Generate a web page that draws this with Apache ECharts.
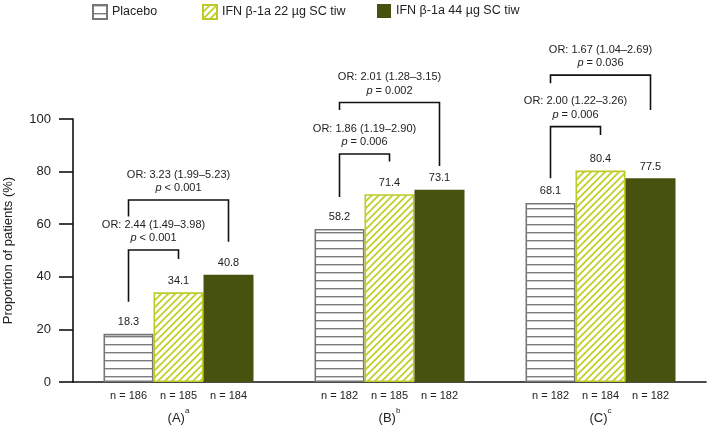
<!DOCTYPE html>
<html>
<head>
<meta charset="utf-8">
<script src="https://cdn.jsdelivr.net/npm/echarts@6/dist/echarts.min.js"></script>
<style>
  html, body { margin: 0; padding: 0; background: #fff; }
  #chart { width: 707px; height: 426px; }
</style>
</head>
<body>
<div id="chart"></div>
<script>
  // groups and footnote letters
  const categories = ['(A)', '(B)', '(C)'];
  const footnotes = ['a', 'b', 'c'];
  const seriesNames = ['Placebo', 'IFN β-1a 22 µg SC tiw', 'IFN β-1a 44 µg SC tiw'];

  // proportion of patients (%)
  const placebo = [18.3, 58.2, 68.1];
  const ifn22 = [34.1, 71.4, 80.4];
  const ifn44 = [40.8, 73.1, 77.5];

  // patients per bar
  const nPlacebo = [186, 182, 182];
  const n22 = [185, 185, 184];
  const n44 = [184, 182, 182];

  // comparisons vs placebo: group, compared series (1 = 22 µg, 2 = 44 µg)
  const cmpGroup = [0, 0, 1, 1, 2, 2];
  const cmpTo = [1, 2, 1, 2, 1, 2];
  const cmpOR = ['2.44 (1.49–3.98)', '3.23 (1.99–5.23)', '1.86 (1.19–2.90)', '2.01 (1.28–3.15)', '2.00 (1.22–3.26)', '1.67 (1.04–2.69)'];
  const cmpP = ['< 0.001', '< 0.001', '= 0.006', '= 0.002', '= 0.006', '= 0.036'];
  // bracket levels in axis units: top, end of left leg, end of right leg
  const cmpTop = [50.2, 69.2, 86.7, 106.3, 97.1, 116.7];
  const cmpLeftEnd = [30.5, 62.9, 70.3, 103.4, 77.5, 113.6];
  const cmpRightEnd = [46.8, 53.3, 83.8, 82.1, 93.9, 103.4];

  const FONT = "'Liberation Sans', Arial, sans-serif";
  const BAR_W = 50;

  function makePattern(kind) {
    const c = document.createElement('canvas');
    const ctx = c.getContext('2d');
    if (kind === 'lines') {
      c.width = 8; c.height = 8;
      ctx.fillStyle = '#fff';
      ctx.fillRect(0, 0, 8, 8);
      ctx.fillStyle = '#7d7d7d';
      ctx.fillRect(0, 0, 8, 1.4);
    } else {
      const s = 7;
      c.width = s; c.height = s;
      ctx.fillStyle = '#fff';
      ctx.fillRect(0, 0, s, s);
      ctx.strokeStyle = '#c2d02c';
      ctx.lineWidth = 1.8;
      ctx.beginPath();
      ctx.moveTo(0, s); ctx.lineTo(s, 0);
      ctx.moveTo(-1, 1); ctx.lineTo(1, -1);
      ctx.moveTo(s - 1, s + 1); ctx.lineTo(s + 1, s - 1);
      ctx.stroke();
    }
    return { image: c, repeat: 'repeat' };
  }

  const barStyles = [
    { color: makePattern('lines'), borderColor: '#777', borderWidth: 1.6 },
    { color: makePattern('hatch'), borderColor: '#bccb28', borderWidth: 1.6 },
    { color: '#47520f', borderColor: '#47520f', borderWidth: 0 }
  ];
  const values = [placebo, ifn22, ifn44];

  const barSeries = values.map(function (v, i) {
    return {
      name: seriesNames[i],
      type: 'bar',
      data: v,
      barWidth: BAR_W,
      barGap: '0%',
      itemStyle: barStyles[i],
      label: {
        show: true,
        position: 'top',
        distance: 6,
        fontSize: 11,
        fontFamily: FONT,
        color: '#222'
      },
      emphasis: { disabled: true },
      silent: true
    };
  });

  const cmpData = cmpGroup.map(function (g, i) {
    return [g, cmpTo[i], cmpTop[i], cmpLeftEnd[i], cmpRightEnd[i], i];
  });

  const bracketSeries = {
    type: 'custom',
    silent: true,
    clip: false,
    data: cmpData,
    renderItem: function (params, api) {
      const g = api.value(0);
      const to = api.value(1);
      const i = api.value(5);
      const cx = api.coord([g, 0])[0];
      const xL = cx - BAR_W;
      const xR = cx + (to - 1) * BAR_W;
      const yTop = api.coord([g, api.value(2)])[1];
      const yL = api.coord([g, api.value(3)])[1];
      const yR = api.coord([g, api.value(4)])[1];
      return {
        type: 'group',
        children: [
          {
            type: 'polyline',
            shape: { points: [[xL, yL], [xL, yTop], [xR, yTop], [xR, yR]] },
            style: { stroke: '#111', lineWidth: 1.6, fill: 'none' }
          },
          {
            type: 'text',
            x: (xL + xR) / 2,
            y: yTop - 5,
            style: {
              text: '{t|OR: ' + cmpOR[i] + '}\n{i|p}{t| ' + cmpP[i] + '}',
              align: 'center',
              verticalAlign: 'bottom',
              fill: '#222',
              fontFamily: FONT,
              fontSize: 11,
              rich: {
                t: { fontSize: 11, fontFamily: FONT, lineHeight: 13.5, fill: '#222' },
                i: { fontSize: 11, fontFamily: FONT, fontStyle: 'italic', lineHeight: 13.5, fill: '#222' }
              }
            }
          }
        ]
      };
    }
  };

  const legendPos = [92, 202, 377];
  const legends = seriesNames.map(function (name, i) {
    return {
      data: [name],
      left: legendPos[i],
      top: 4,
      padding: 0,
      icon: 'rect',
      itemWidth: 14,
      itemHeight: 14,
      itemGap: 7,
      selectedMode: false,
      textStyle: { fontSize: 12.5, fontFamily: FONT, color: '#222' }
    };
  });

  const chart = echarts.init(document.getElementById('chart'), null, { renderer: 'canvas' });
  chart.setOption({
    animation: false,
    backgroundColor: '#fff',
    legend: legends,
    grid: { left: 73, right: 1, top: 119, bottom: 44, containLabel: false, outerBoundsMode: 'none' },
    xAxis: {
      type: 'category',
      data: categories,
      axisLine: { lineStyle: { color: '#111', width: 1.6 } },
      axisTick: { show: false },
      axisLabel: {
        margin: 6,
        interval: 0,
        formatter: function (val, idx) {
          return '{n|n = ' + nPlacebo[idx] + '}{n|n = ' + n22[idx] + '}{n|n = ' + n44[idx] + '}\n' +
            '{g|' + val + '}{s|' + footnotes[idx] + '}';
        },
        rich: {
          n: { width: BAR_W, align: 'center', fontSize: 11, fontFamily: FONT, color: '#222', lineHeight: 15 },
          g: { fontSize: 13, fontFamily: FONT, color: '#222', lineHeight: 22, verticalAlign: 'bottom' },
          s: { fontSize: 8, fontFamily: FONT, color: '#222', lineHeight: 22, verticalAlign: 'middle', padding: [0, 0, 6, 0] }
        }
      }
    },
    yAxis: {
      type: 'value',
      min: 0,
      max: 100,
      interval: 20,
      name: 'Proportion of patients (%)',
      nameLocation: 'middle',
      nameGap: 58,
      nameTextStyle: { fontSize: 13, fontFamily: FONT, color: '#222' },
      axisLine: { show: true, lineStyle: { color: '#111', width: 1.6 } },
      axisTick: { show: true, length: 14, lineStyle: { color: '#111', width: 1.6 } },
      axisLabel: { fontSize: 13, fontFamily: FONT, color: '#222', margin: 22 },
      splitLine: { show: false }
    },
    series: barSeries.concat([bracketSeries])
  });
</script>
</body>
</html>
